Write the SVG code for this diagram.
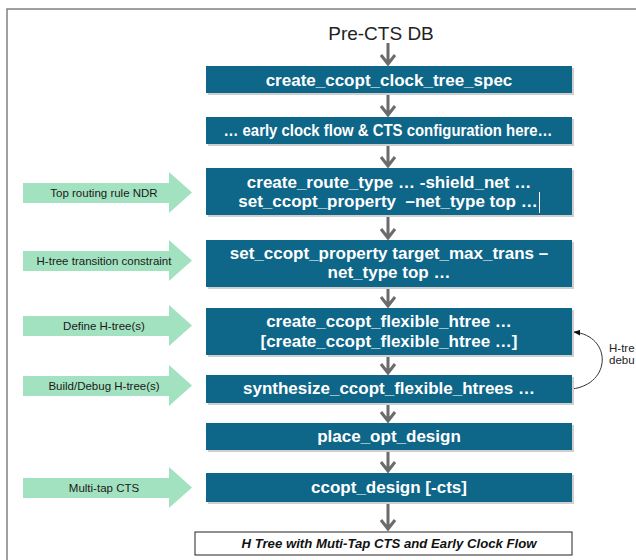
<svg xmlns="http://www.w3.org/2000/svg" width="636" height="560" viewBox="0 0 636 560">
<defs>
<style>
.box{fill:#0e6689;}
.sh{fill:#cfcfcf;}
.bt{fill:#ffffff;font-family:"Liberation Sans",Arial,sans-serif;font-weight:bold;font-size:17px;text-anchor:middle;}
.ga{fill:#a3e2c0;}
.gt{fill:#1a1a1a;font-family:"Liberation Sans",Arial,sans-serif;font-size:11.5px;text-anchor:middle;}
.flow{stroke:#6b6b6b;stroke-width:3;fill:none;}
.lbl{fill:#222;font-family:"Liberation Sans",Arial,sans-serif;font-size:11.5px;}
</style>
<marker id="ah" viewBox="0 0 10 10" refX="9" refY="5" markerWidth="7" markerHeight="7" orient="auto">
<path d="M0,1 L10,5 L0,9 z" fill="#111"/>
</marker>
</defs>
<rect x="0" y="0" width="636" height="560" fill="#ffffff"/>
<path d="M7,570 L7,9 L640,9" fill="none" stroke="#808080" stroke-width="1.5"/>

<g id="start"><text x="381" y="40" font-family="Liberation Sans,Arial,sans-serif" font-size="19" text-anchor="middle" fill="#222">Pre-CTS DB</text></g>

<g id="connectors">
<path class="flow" d="M388,43 V64 M381,55 L388,64 L395,55"/>
<path class="flow" d="M388,94 V115 M381,106 L388,115 L395,106"/>
<path class="flow" d="M388,145 V166 M381,157 L388,166 L395,157"/>
<path class="flow" d="M388,216 V238 M381,229 L388,238 L395,229"/>
<path class="flow" d="M388,288 V306 M381,297 L388,306 L395,297"/>
<path class="flow" d="M388,356 V373 M381,364 L388,373 L395,364"/>
<path class="flow" d="M388,404 V421 M381,412 L388,421 L395,412"/>
<path class="flow" d="M388,451 V471 M381,462 L388,471 L395,462"/>
<path class="flow" d="M388,503 V529 M381,520 L388,529 L395,520"/>
<path d="M572,389 C612,384 612,336 574,332" fill="none" stroke="#333" stroke-width="1" marker-end="url(#ah)"/>
</g>

<g id="b1"><rect class="sh" x="208" y="68" width="366" height="27"/><rect class="box" x="206" y="66" width="366" height="27"/><text class="bt" x="389" y="86">create_ccopt_clock_tree_spec</text></g>
<g id="b2"><rect class="sh" x="208" y="119" width="366" height="27"/><rect class="box" x="206" y="117" width="366" height="27"/><text class="bt" x="388" y="136" font-size="16" textLength="329" lengthAdjust="spacingAndGlyphs">… early clock flow &amp; CTS configuration here…</text></g>
<g id="b3"><rect class="sh" x="208" y="170" width="366" height="47"/><rect class="box" x="206" y="168" width="366" height="47"/><text class="bt" x="389" y="188">create_route_type … -shield_net …</text><text class="bt" x="388" y="207">set_ccopt_property&#160; –net_type top …</text><line x1="539.5" y1="192" x2="539.5" y2="213" stroke="#fff" stroke-width="1"/></g>
<g id="b4"><rect class="sh" x="208" y="242" width="366" height="47"/><rect class="box" x="206" y="240" width="366" height="47"/><text class="bt" x="389" y="259">set_ccopt_property target_max_trans –</text><text class="bt" x="389" y="278">net_type top …</text></g>
<g id="b5"><rect class="sh" x="208" y="310" width="366" height="47"/><rect class="box" x="206" y="308" width="366" height="47"/><text class="bt" x="389" y="327">create_ccopt_flexible_htree …</text><text class="bt" x="389" y="347">[create_ccopt_flexible_htree …]</text></g>
<g id="b6"><rect class="sh" x="208" y="377" width="366" height="28"/><rect class="box" x="206" y="375" width="366" height="28"/><text class="bt" x="389" y="394">synthesize_ccopt_flexible_htrees …</text></g>
<g id="b7"><rect class="sh" x="208" y="425" width="366" height="27"/><rect class="box" x="206" y="423" width="366" height="27"/><text class="bt" x="389" y="442">place_opt_design</text></g>
<g id="b8"><rect class="sh" x="208" y="475" width="366" height="29"/><rect class="box" x="206" y="473" width="366" height="29"/><text class="bt" x="389" y="493">ccopt_design [-cts]</text></g>
<g id="caption"><rect x="195" y="532" width="377" height="23" fill="#fff" stroke="#222" stroke-width="1"/><text x="389" y="548" font-family="Liberation Sans,Arial,sans-serif" font-size="13.5" font-weight="bold" font-style="italic" text-anchor="middle" fill="#111" textLength="295" lengthAdjust="spacingAndGlyphs">H Tree with Muti-Tap CTS and Early Clock Flow</text></g>

<g id="a1"><polygon class="ga" points="23,183 169,183 169,172 192,192.5 169,213 169,203 23,203"/><text class="gt" x="104" y="197">Top routing rule NDR</text></g>
<g id="a2"><polygon class="ga" points="23,251 169,251 169,240 192,260.5 169,281 169,271 23,271"/><text class="gt" x="104" y="265">H-tree transition constraint</text></g>
<g id="a3"><polygon class="ga" points="23,316 169,316 169,305 192,325.5 169,346 169,336 23,336"/><text class="gt" x="104" y="330">Define H-tree(s)</text></g>
<g id="a4"><polygon class="ga" points="23,376 169,376 169,365 192,385.5 169,406 169,396 23,396"/><text class="gt" x="104" y="390">Build/Debug H-tree(s)</text></g>
<g id="a5"><polygon class="ga" points="23,478 169,478 169,467 192,487.5 169,508 169,498 23,498"/><text class="gt" x="104" y="492">Multi-tap CTS</text></g>

<g id="loop-label"><text class="lbl" x="609" y="352">H-tre</text><text class="lbl" x="609" y="364">debu</text></g>
</svg>
